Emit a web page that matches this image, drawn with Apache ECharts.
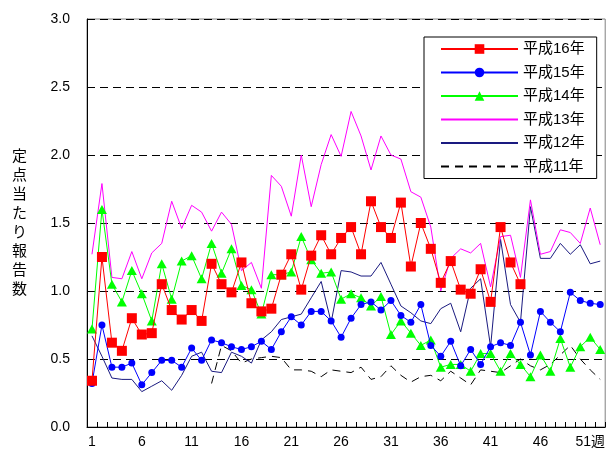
<!DOCTYPE html>
<html>
<head>
<meta charset="utf-8">
<script src="https://cdn.jsdelivr.net/npm/echarts@6/dist/echarts.min.js"></script>
<style>
  html, body { margin: 0; padding: 0; background: #fff; }
  #chart { width: 608px; height: 455px; }
</style>
</head>
<body>
<div id="chart"></div>
<script>
// Week categories (x axis)
const weeks = ['1','2','3','4','5','6','7','8','9','10','11','12','13','14','15','16','17','18','19','20',
  '21','22','23','24','25','26','27','28','29','30','31','32','33','34','35','36','37','38','39','40',
  '41','42','43','44','45','46','47','48','49','50','51','52'];
const shownWeekLabels = ['1','6','11','16','21','26','31','36','41','46','51'];
const yTickLabels = ['0.0','0.5','1.0','1.5','2.0','2.5','3.0'];

const seriesNames = ['平成16年','平成15年','平成14年','平成13年','平成12年','平成11年'];

// 平成16年 (data until week 44)
const h16 = [0.34,1.25,0.62,0.56,0.80,0.68,0.69,1.05,0.86,0.79,0.86,0.78,1.20,1.05,0.99,1.21,0.91,0.85,0.87,1.12,
  1.27,1.01,1.26,1.41,1.27,1.39,1.47,1.27,1.66,1.47,1.39,1.65,1.18,1.50,1.31,1.06,1.22,1.01,0.98,1.16,
  0.92,1.47,1.21,1.05];
// 平成15年
const h15 = [0.32,0.75,0.44,0.44,0.47,0.31,0.40,0.49,0.49,0.44,0.58,0.49,0.64,0.62,0.59,0.57,0.59,0.63,0.57,0.70,
  0.81,0.75,0.85,0.85,0.78,0.66,0.80,0.90,0.92,0.86,0.93,0.82,0.77,0.90,0.60,0.52,0.63,0.45,0.57,0.46,
  0.59,0.62,0.60,0.77,0.53,0.85,0.77,0.70,0.99,0.93,0.91,0.90];
// 平成14年
const h14 = [0.72,1.60,1.05,0.92,1.15,0.98,0.78,1.20,0.94,1.22,1.26,1.09,1.35,1.13,1.31,1.04,1.01,0.83,1.12,1.12,
  1.14,1.40,1.23,1.13,1.14,0.94,0.98,0.95,0.89,0.96,0.68,0.78,0.69,0.60,0.64,0.44,0.46,0.46,0.41,0.54,
  0.54,0.41,0.54,0.46,0.37,0.53,0.41,0.65,0.44,0.59,0.66,0.57];
// 平成13年
const h13 = [1.27,1.79,1.10,1.09,1.29,1.09,1.28,1.35,1.66,1.46,1.63,1.58,1.44,1.58,1.49,1.15,1.21,1.02,1.85,1.77,
  1.55,2.00,1.62,1.93,2.15,1.99,2.32,2.14,1.89,2.14,2.00,1.97,1.73,1.69,1.47,1.00,1.24,1.31,1.28,1.35,
  1.03,1.40,1.41,1.10,1.67,1.27,1.29,1.45,1.43,1.35,1.61,1.34];
// 平成12年
const h12 = [0.67,0.52,0.36,0.35,0.35,0.26,0.30,0.34,0.27,0.38,0.52,0.55,0.41,0.40,0.55,0.52,0.47,0.64,0.70,0.79,
  0.81,0.83,0.95,1.07,0.77,1.15,1.14,1.11,1.11,1.21,1.05,0.89,0.84,0.78,0.76,0.87,0.91,0.70,1.02,1.09,
  0.59,1.38,0.90,0.77,1.62,1.24,1.24,1.35,1.27,1.34,1.20,1.22];
// 平成11年 (data from week 13)
const h11 = [null,null,null,null,null,null,null,null,null,null,null,null,0.32,0.60,0.56,0.47,0.50,0.51,0.52,0.51,
  0.42,0.42,0.41,0.37,0.42,0.41,0.40,0.44,0.35,0.37,0.45,0.38,0.33,0.37,0.38,0.34,0.41,0.36,0.31,0.42,
  0.41,0.40,0.45,0.50,0.45,0.42,0.46,0.53,0.60,0.50,0.42,0.35];

const FONT = "'Liberation Sans', 'Noto Sans CJK JP', sans-serif";

const chart = echarts.init(document.getElementById('chart'), null, { renderer: 'canvas' });

function lineSeries(name, data, color, opts) {
  return Object.assign({
    name: name,
    type: 'line',
    data: data,
    animation: false,
    connectNulls: false,
    lineStyle: { color: color, width: 1 },
    itemStyle: { color: color, borderWidth: 0 },
    emphasis: { disabled: true }
  }, opts);
}

const markerless = [seriesNames[3], seriesNames[4], seriesNames[5]];
const legendData = seriesNames.map(function (n) {
  return markerless.indexOf(n) >= 0 ? { name: n, itemStyle: { opacity: 0 } } : { name: n };
});

const option = {
  backgroundColor: '#ffffff',
  animation: false,
  grid: {
    left: 87, right: 0, top: 19, bottom: 28,
    show: true, borderColor: '#808080', borderWidth: 1, backgroundColor: 'transparent'
  },
  legend: {
    orient: 'vertical',
    left: 424, top: 37,
    padding: [4, 12, 4, 16],
    itemWidth: 77, itemHeight: 12, itemGap: 7.5,
    backgroundColor: '#ffffff',
    borderColor: '#000000', borderWidth: 1,
    textStyle: { fontSize: 15, lineHeight: 16, color: '#000', fontFamily: FONT },
    data: legendData
  },
  xAxis: {
    type: 'category',
    data: weeks,
    boundaryGap: true,
    axisLine: { lineStyle: { color: '#000', width: 1 } },
    axisTick: { show: true, inside: true, length: 5, interval: 0, lineStyle: { color: '#000' } },
    axisLabel: {
      interval: 0,
      margin: 8,
      fontSize: 14,
      color: '#000',
      fontFamily: FONT,
      formatter: function (v) {
        if (shownWeekLabels.indexOf(v) < 0) return '';
        return v === '51' ? v + '週' : v;
      }
    },
    splitLine: { show: false }
  },
  yAxis: {
    type: 'value',
    min: 0, max: 3, interval: 0.5,
    name: '定\n点\n当\nた\nり\n報\n告\n数',
    nameLocation: 'middle',
    nameRotate: 0,
    nameGap: 60,
    nameTextStyle: { fontSize: 15, lineHeight: 19, color: '#000', fontFamily: FONT },
    axisLine: { show: true, lineStyle: { color: '#000', width: 1 } },
    axisTick: { show: false },
    axisLabel: {
      margin: 17, fontSize: 14, color: '#000', fontFamily: FONT,
      formatter: function (v) { return yTickLabels[Math.round(v / 0.5)]; }
    },
    splitLine: { show: true, lineStyle: { color: '#000', type: [8, 5], width: 1 } }
  },
  series: [
    lineSeries(seriesNames[5], h11, '#000000', { symbol: 'none', lineStyle: { color: '#000', width: 1, type: [8, 6] }, z: 2 }),
    lineSeries(seriesNames[4], h12, '#1a1a80', { symbol: 'none', z: 3 }),
    lineSeries(seriesNames[3], h13, '#ff00ff', { symbol: 'none', z: 4 }),
    lineSeries(seriesNames[2], h14, '#00ff00', { symbol: 'triangle', symbolSize: [10, 9], z: 5 }),
    lineSeries(seriesNames[1], h15, '#0000ff', { symbol: 'circle', symbolSize: 7, z: 6 }),
    lineSeries(seriesNames[0], h16, '#ff0000', { symbol: 'rect', symbolSize: 10, z: 7 })
  ]
};
chart.setOption(option);
</script>
</body>
</html>
